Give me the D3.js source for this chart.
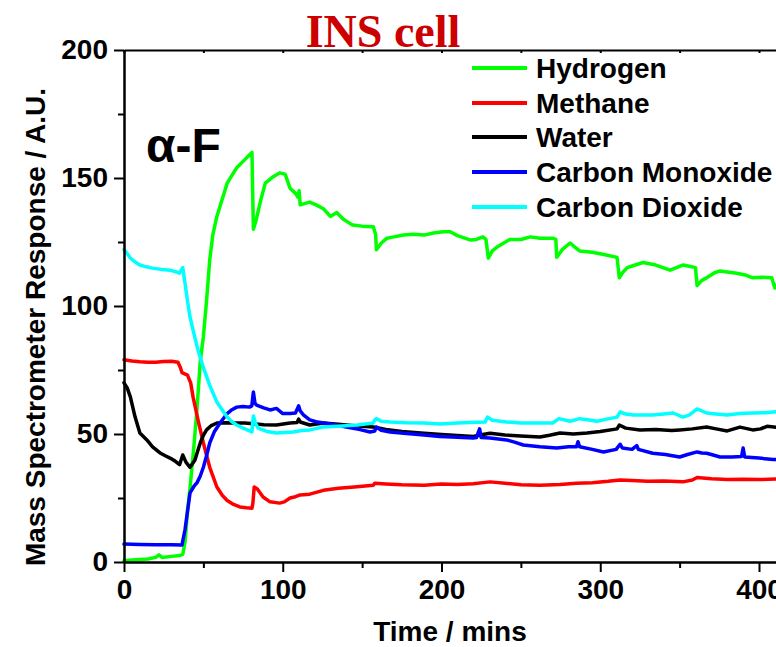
<!DOCTYPE html>
<html>
<head>
<meta charset="utf-8">
<script src="https://cdn.jsdelivr.net/npm/d3@7"></script>
<style>
  html, body { margin: 0; padding: 0; background: #fff; }
  svg { display: block; }
  text { font-family: "Liberation Sans", Arial, sans-serif; font-weight: bold; }
</style>
</head>
<body>
<svg id="chart" width="776" height="647"></svg>
<script>
// Mass spectrometer traces, [time (mins), response (A.U.)]
const hydrogen = [[0,0.5],[5,0.8],[10,1],[15,1.2],[20,1.8],[22,2.8],[24,1.8],[30,2.2],[35,2.5],[37,3],[38.5,8],[40,20],[41.6,29],[44,45],[46,60],[48,78],[50,88],[52,102],[54,118],[56,128],[58.5,135],[62,142],[65,148],[68,151],[71,154],[75,156.5],[79,159],[80.6,160],[81.5,130],[83,133],[86,141],[89,148],[94,150.5],[98,152],[101.5,151.5],[104.6,146],[108,144],[109.6,142.5],[110.3,145],[111,139.5],[117,140.6],[121,139.5],[125.6,138],[130,135],[134,136.5],[138,134],[144,131.6],[150,131.2],[157,131],[158.5,128],[159,122],[162,124.5],[165.6,126.5],[170,127],[176,127.7],[182,128],[189,127.7],[195,128.5],[201,129],[205.5,129],[210,127.5],[218,125.8],[222,126],[226,127],[228,126],[229.5,118.7],[232,121.5],[235,123],[243,126],[250,126],[256,127],[262,126.5],[270,126.5],[272,126],[272.6,119],[276,122],[281,124.6],[284,123],[287,121.5],[295,121],[303,120],[310.6,119],[312,111],[314,113],[317,115],[322,116],[327,117],[335,116],[344,114],[348,115],[352,116],[356,115.5],[360,115],[361,108],[364,110],[367,111],[372,113],[375.5,113.7],[380,113.3],[386,112.8],[392,112],[396,111],[402,111.2],[408,111],[410,107],[412,109]];

const methane = [[0,79],[5,78.5],[10,78.2],[15,78],[20,78],[25,78.3],[30,78.4],[34,78],[35.5,76],[36.5,74],[40,73],[42,70],[43.5,64.5],[46.6,55.5],[50,46.5],[54,37],[58.5,29.3],[62,26],[65,24],[69,22.5],[73,21.5],[77,21.2],[80.6,21],[81.2,23],[82,29.3],[84,28.5],[87.6,25.4],[92,23.5],[98,23],[101,23.5],[104.6,25],[108,25.5],[111,26.2],[117,26.5],[125.6,28],[135,28.8],[145,29.3],[157,30],[158,30.8],[165,30.5],[175,30.2],[189,30],[200,30.5],[210,30.3],[220,30.6],[230.6,31.3],[240,30.8],[250,30.2],[262,30],[274.7,30.3],[285,30.8],[295,31],[305,31.5],[312.5,32],[320,31.8],[330,31.5],[340,31.6],[352,31.3],[358,32],[361,33],[370,32.5],[380,32.2],[390,32.3],[400,32.2],[412,32.4]];

const water = [[0,70],[2,68],[4,64.5],[7,56.6],[10,50.4],[14.4,47.7],[18,45],[22.7,42.6],[26,41.5],[29,40.6],[32,39.5],[35,38],[37,41.8],[39,39],[41.6,37],[44.7,39.8],[46,42.5],[48,46.5],[50,49.5],[52,51.6],[55,53.3],[58.5,54.3],[65,54.4],[71,54.3],[76,54.3],[81.5,54],[88,53.6],[96,53.5],[104.6,54.3],[109,54.5],[110,55.8],[111,54.7],[117,53.5],[125.6,54.3],[135,53.8],[145,53.2],[157,52.7],[165,51.8],[175,51],[189,50.3],[200,49.8],[210,49.4],[220,49],[226,49.8],[230.6,50.3],[240,49.6],[250,49.2],[262,48.8],[268,49.5],[274.7,50.4],[283,50],[291.6,50.4],[300,51],[310.6,52],[312,53.5],[316,52.3],[325,51.6],[335,51.8],[345,51.4],[350,51.6],[358,52],[367,52.7],[373,52],[380,51.2],[388,52.7],[396,51.6],[401,52],[405,53],[412,52.6]];

const carbonMonoxide = [[0,7],[10,6.8],[20,6.7],[30,6.7],[36.5,6.6],[38.4,12.5],[41.6,27],[44,29.5],[46,31],[48,33.5],[50,37],[52,41.5],[54,46.5],[57,51],[60.5,54.3],[65,58],[68,59.5],[71,60.5],[75,60.7],[79,60.5],[80.5,61],[81.5,66.4],[82.5,62],[83.5,61.3],[88,60.2],[92,59.4],[96,60],[100,58],[104.6,58],[108,58.2],[110,61],[111,59],[113,57.5],[117,55.5],[121,54.8],[125.6,54.3],[133,53.6],[140,52.7],[148,51.8],[155,50.8],[158,51.2],[159,52.7],[162,51.5],[167.6,50.8],[178,50.2],[189,49.6],[199,49],[210,48.7],[220,48.4],[222,48.6],[224,52],[225,48.6],[230.6,48.4],[241,47.7],[246,46.8],[251.5,45.7],[262,45],[272.6,44.5],[280,45],[285,45],[286,47],[287,45],[295,44],[302,43],[310,44],[312.5,46],[314,44.5],[320,44],[323,45.5],[324,44],[333,42.5],[341,42],[350,41],[355,42],[361,43],[364,42.6],[367,42.5],[370,42],[375.5,41],[383,41],[389,41.2],[390,44.5],[391,41],[400,40.6],[409,40],[412,40]];

const carbonDioxide = [[0,122],[2,120.5],[4,118.7],[7,117.2],[10,116],[14,115.3],[18,114.8],[24,114.3],[29,114],[33,113.3],[35,112.8],[36,114],[37,115],[38.4,109],[40,102],[41.5,96],[43.5,90.6],[46.6,82.8],[50,76],[54,69],[58.5,62.5],[62,59.3],[65,56.6],[68,54.8],[71,53.5],[75,52.3],[80.6,50.8],[81,54],[81.5,57],[83,54],[84.5,52.3],[90,51],[96,50.4],[101,50.6],[106.5,50.8],[112,51.4],[117,51.6],[125.6,52.7],[135,53],[147,53.5],[157,54.3],[158,55.5],[159,56],[162,55],[167.6,54.7],[178,54.4],[189,54.3],[199,53.9],[210,54.3],[218,54.5],[227.5,54.7],[229,56.6],[232,55.4],[241,54.7],[250,54.3],[262,54.3],[270,54.3],[274,56],[281,55],[287,56],[292,55.6],[298,55],[304,55.8],[310.6,56.6],[312.5,58.6],[316,57.8],[321,57.4],[333,57.4],[340,57.8],[346,58.2],[352,56.6],[356,57.4],[361,59.8],[367,58.2],[373,57.8],[380,57.4],[388,58],[396,58.2],[404,58.3],[409,58.6],[412,58.8]];

const seriesNames = ["Hydrogen", "Methane", "Water", "Carbon Monoxide", "Carbon Dioxide"];
const seriesColors = ["#00ff00", "#ff0000", "#000000", "#0000ff", "#00ffff"];
const seriesData = [hydrogen, methane, water, carbonMonoxide, carbonDioxide];

const xMajorTicks = [0, 100, 200, 300, 400];
const xMinorTicks = [50, 150, 250, 350, 450];
const yMajorTicks = [0, 50, 100, 150, 200];
const yMinorTicks = [25, 75, 125, 175];

const chartTitle = "INS cell";
const panelLabel = "α-F";
const xLabel = "Time / mins";
const yLabel = "Mass Spectrometer Response / A.U.";

// Plot frame: the time axis runs on past the right edge of the page
const plotLeft = 124, plotTop = 50, plotBottom = 562;
const pxPerMin = 1.5875;
const xMax = 450;

const svg = d3.select("#chart");
const x = d3.scaleLinear().domain([0, xMax]).range([plotLeft, plotLeft + pxPerMin * xMax]);
const y = d3.scaleLinear().domain([0, 200]).range([plotBottom, plotTop]);

// Data lines, drawn in legend order
const line = d3.line().x(d => x(d[0])).y(d => y(d[1]));
const plot = svg.append("g");
seriesData.forEach((data, i) => {
  plot.append("path")
    .datum(data)
    .attr("fill", "none")
    .attr("stroke", seriesColors[i])
    .attr("stroke-width", 3.5)
    .attr("stroke-linejoin", "round")
    .attr("stroke-linecap", "round")
    .attr("d", line);
});

// Axes
function styleAxis(g) {
  g.selectAll(".domain").attr("stroke", "#000").attr("stroke-width", 2);
  g.selectAll(".tick line").attr("stroke", "#000").attr("stroke-width", 2);
  g.selectAll("text").attr("fill", "#000").style("font-size", "28px")
    .style("font-family", "'Liberation Sans', Arial, sans-serif").style("font-weight", "bold");
}

svg.append("g").attr("transform", `translate(0,${plotBottom})`)
  .call(d3.axisBottom(x).tickValues(xMajorTicks).tickFormat(d3.format("d")).tickSize(10).tickPadding(7).tickSizeOuter(0))
  .call(styleAxis);
svg.append("g").attr("transform", `translate(0,${plotBottom})`)
  .call(d3.axisBottom(x).tickValues(xMinorTicks).tickFormat("").tickSize(6).tickSizeOuter(0))
  .call(styleAxis);

svg.append("g").attr("transform", `translate(${plotLeft},0)`)
  .call(d3.axisLeft(y).tickValues(yMajorTicks).tickFormat(d3.format("d")).tickSize(10).tickPadding(6).tickSizeOuter(0))
  .call(styleAxis);
svg.append("g").attr("transform", `translate(${plotLeft},0)`)
  .call(d3.axisLeft(y).tickValues(yMinorTicks).tickFormat("").tickSize(6).tickSizeOuter(0))
  .call(styleAxis);

// Top frame edge with short inward ticks
svg.append("g").attr("transform", `translate(0,${plotTop})`)
  .call(d3.axisTop(x).tickValues(xMajorTicks.concat(xMinorTicks)).tickFormat("").tickSize(-3).tickSizeOuter(0))
  .call(styleAxis);

// Titles and labels
svg.append("text")
  .attr("x", 383).attr("y", 47)
  .attr("text-anchor", "middle")
  .style("font-family", "'Liberation Serif', 'Times New Roman', serif")
  .style("font-size", "46px")
  .attr("fill", "#cc0000")
  .text(chartTitle);

svg.append("text")
  .attr("x", 146).attr("y", 162)
  .style("font-size", "48px")
  .attr("fill", "#000")
  .text(panelLabel);

svg.append("text")
  .attr("x", 450).attr("y", 641)
  .attr("text-anchor", "middle")
  .style("font-size", "28px")
  .text(xLabel);

svg.append("text")
  .attr("transform", `translate(45,327) rotate(-90)`)
  .attr("text-anchor", "middle")
  .style("font-size", "28px")
  .text(yLabel);

// Legend
const legendRows = [68, 103, 137, 172, 207];
const legend = svg.append("g");
seriesNames.forEach((name, i) => {
  legend.append("line")
    .attr("x1", 472).attr("x2", 527)
    .attr("y1", legendRows[i]).attr("y2", legendRows[i])
    .attr("stroke", seriesColors[i]).attr("stroke-width", 4);
  legend.append("text")
    .attr("x", 536).attr("y", legendRows[i])
    .attr("dy", "0.36em")
    .style("font-size", "28px")
    .text(name);
});
</script>
</body>
</html>
